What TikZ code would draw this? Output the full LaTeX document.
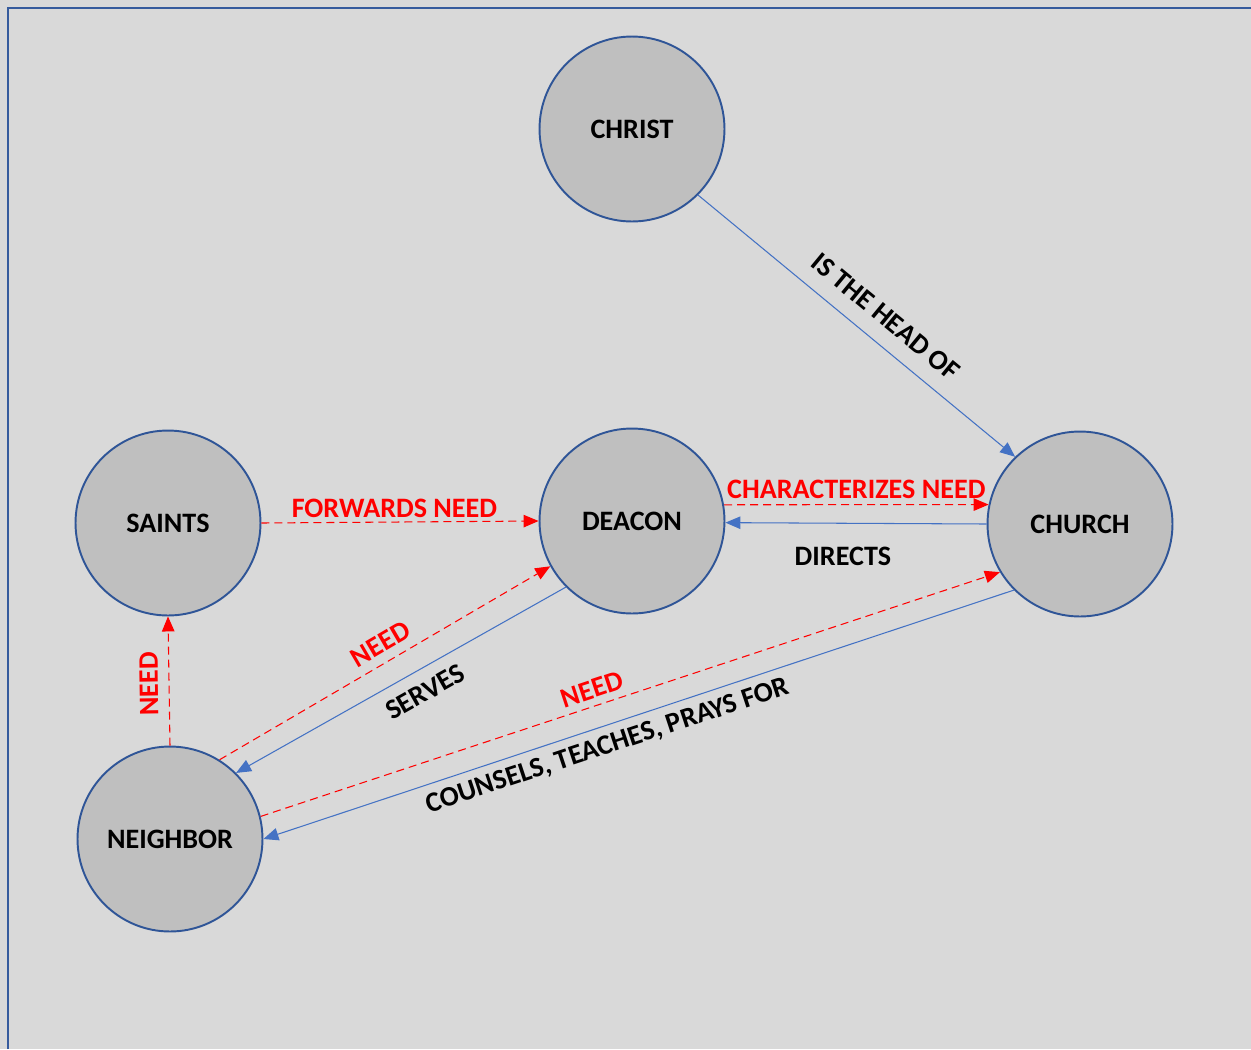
\documentclass[tikz,border=0pt]{standalone}
\usepackage{fontspec}
\setmainfont{Carlito}
\usetikzlibrary{arrows.meta, positioning}
\definecolor{bgGray}{HTML}{D9D9D9}
\definecolor{nodeGray}{HTML}{BFBFBF}
\definecolor{ringBlue}{HTML}{2F5597}
\definecolor{lineBlue}{HTML}{4472C4}
\tikzset{
	>={Triangle[length=0.3cm, width=0.25cm]},
	every node/.style={font=\fontsize{16}{19}\selectfont\bfseries},
	entity/.style={circle, draw=ringBlue, line width=1.1pt, fill=nodeGray, minimum size=3.7cm, inner sep=0pt},
	relation/.style={->, draw=lineBlue, line width=0.6pt},
	request/.style={->, draw=red, line width=0.6pt, dash pattern=on 0.16cm off 0.1cm},
	tag/.style={inner sep=2pt, text=black},
	redtag/.style={inner sep=2pt, text=red},
}

\begin{document}
\begin{tikzpicture}[x=0.02cm, y=-0.02cm]
	\useasboundingbox (0,0) rectangle (1251,1049);
	\fill[bgGray] (0,0) rectangle (1251,1049);
	\draw[lineBlue!80!black, line width=0.05cm] (8,1049) -- (8,8) -- (1251,8);

	\node[entity] (CHRIST) at (632,129) {CHRIST};
	\node[entity] (DEACON) at (632,521) {DEACON};
	\node[entity] (CHURCH) at (1080,524) {CHURCH};
	\node[entity] (SAINTS) at (168,523) {SAINTS};
	\node[entity] (NEIGHBOR) at (170,839) {NEIGHBOR};

	\draw[relation] (CHRIST.-45) -- node[tag, sloped, above=7pt, pos=0.54]{IS THE HEAD OF} (CHURCH.134);
	\draw[request] (SAINTS.east) -- node[redtag, above, pos=0.48]{FORWARDS NEED} (DEACON.west);
	\draw[request] (DEACON.10) -- node[redtag, above=1pt, pos=0.5]{CHARACTERIZES NEED} (CHURCH.168);
	\draw[relation] (CHURCH.180) -- node[tag, below=11pt, pos=0.55]{DIRECTS} (DEACON.-1);
	\draw[relation] (DEACON.-135) -- node[tag, sloped, below=5pt, pos=0.46]{SERVES} (NEIGHBOR.45);
	\draw[request] (NEIGHBOR.58) -- node[redtag, sloped, above=3pt, pos=0.515]{NEED} (DEACON.-151);
	\draw[request] (NEIGHBOR.north) -- node[redtag, sloped, allow upside down, above=4pt, pos=0.48]{NEED} (SAINTS.south);
	\draw[relation] (CHURCH.-135) -- node[tag, sloped, below=3pt, pos=0.55]{COUNSELS, TEACHES, PRAYS FOR} (NEIGHBOR.0);
	\draw[request] (NEIGHBOR.14) -- node[redtag, sloped, above=2pt, pos=0.455]{NEED} (CHURCH.-149);

\end{tikzpicture}
\end{document}
